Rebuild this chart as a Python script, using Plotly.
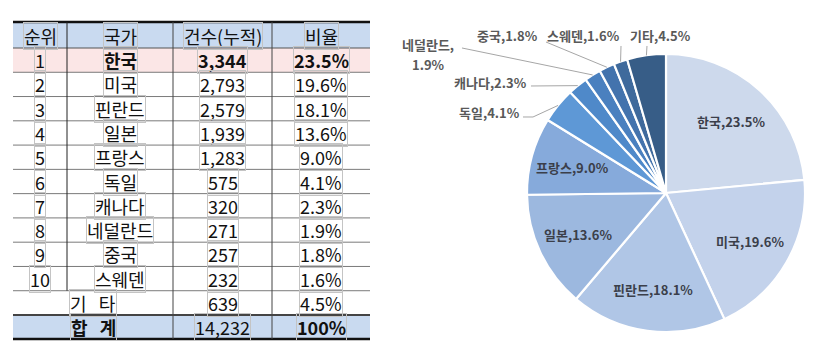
import math
import plotly.graph_objects as go

W, H = 818, 351

# ---------------- data ----------------
ranks = ["1", "2", "3", "4", "5", "6", "7", "8", "9", "10"]
countries = ["한국", "미국", "핀란드", "일본", "프랑스", "독일", "캐나다", "네덜란드", "중국", "스웨덴"]
counts = [3344, 2793, 2579, 1939, 1283, 575, 320, 271, 257, 232]
shares = [23.5, 19.6, 18.1, 13.6, 9.0, 4.1, 2.3, 1.9, 1.8, 1.6]
other_label = "기 타"
other_count = 639
other_share = 4.5
total_label = "합 계"
total_count = 14232
total_share = "100%"
headers = ["순위", "국가", "건수(누적)", "비율"]

pie_labels = countries + ["기타"]
pie_values = shares + [other_share]
pie_colors = ["#cdd9ec", "#c3d2eb", "#b0c6e6", "#9cb8df", "#86aadb", "#5e98d6",
              "#4f89c9", "#4a80bf", "#4373ad", "#3f6a9c", "#375d87"]

# ---------------- helpers ----------------
def px(x):
    return x / W

def py(y):
    return 1 - y / H

FONT = "Noto Sans CJK KR"
shapes = []
annotations = []

# ---------------- table layout ----------------
col_x = [13, 67, 173, 272, 370]
header_top, header_bot = 22, 48
row_h = (315 - 48) / 11
row_y = [header_bot + row_h * i for i in range(12)]  # boundaries of 11 body rows
total_top, total_bot = row_y[-1], 339

def rect(x0, y0, x1, y1, color):
    shapes.append(dict(type="rect", xref="paper", yref="paper",
                       x0=px(x0), x1=px(x1), y0=py(y1), y1=py(y0),
                       fillcolor=color, line=dict(width=0), layer="below"))

def hline(y, x0, x1, color, width):
    shapes.append(dict(type="line", xref="paper", yref="paper",
                       x0=px(x0), x1=px(x1), y0=py(y), y1=py(y),
                       line=dict(color=color, width=width)))

def vline(x, y0, y1, color, width):
    shapes.append(dict(type="line", xref="paper", yref="paper",
                       x0=px(x), x1=px(x), y0=py(y0), y1=py(y1),
                       line=dict(color=color, width=width)))

def cell_text(text, x, y, bold=False, size=18):
    text = text.replace(" ", "\u00a0\u00a0\u00a0")
    annotations.append(dict(
        text=f"<b>{text}</b>" if bold else text,
        x=px(x), y=py(y), xref="paper", yref="paper",
        xanchor="center", yanchor="middle", showarrow=False,
        font=dict(family=FONT, size=size, color="#111111"),
        bordercolor="#c4c4c4", borderwidth=1, borderpad=0,
    ))

# backgrounds
rect(col_x[0], header_top, col_x[-1], header_bot, "#c9daf0")
rect(col_x[0], row_y[0], col_x[-1], row_y[1], "#fbe6e6")
rect(col_x[0], total_top, col_x[-1], total_bot, "#c9daf0")

# horizontal lines
hline(header_top, col_x[0], col_x[-1], "#111111", 2.5)
hline(header_bot, col_x[0], col_x[-1], "#555555", 1.2)
for yy in row_y[1:-1]:
    hline(yy, col_x[0], col_x[-1], "#7a7a7a", 1)
hline(total_top, col_x[0], col_x[-1], "#444444", 2.2)
hline(total_bot, col_x[0], col_x[-1], "#111111", 2.5)

# vertical lines
vline(col_x[1], header_top, row_y[10], "#222222", 1)
vline(col_x[2], header_top, total_bot, "#444444", 1)
vline(col_x[3], header_top, total_bot, "#444444", 1)

centers = [(col_x[i] + col_x[i + 1]) / 2 for i in range(4)]

# header
for i, htxt in enumerate(headers):
    cell_text(htxt, centers[i], (header_top + header_bot) / 2 + 1)

# body rows
for i in range(len(ranks)):
    yc = (row_y[i] + row_y[i + 1]) / 2
    bold = (i == 0)
    cell_text(ranks[i], centers[0], yc)
    cell_text(countries[i], centers[1], yc, bold)
    cell_text(f"{counts[i]:,}", centers[2], yc, bold)
    cell_text(f"{shares[i]:.1f}%", centers[3], yc, bold)

# other row
yc = (row_y[10] + row_y[11]) / 2
merged_c = (col_x[0] + col_x[2]) / 2
cell_text(other_label, merged_c, yc)
cell_text(f"{other_count:,}", centers[2], yc)
cell_text(f"{other_share:.1f}%", centers[3], yc)

# total row
yc = (total_top + total_bot) / 2
cell_text(total_label, merged_c, yc, True)
cell_text(f"{total_count:,}", centers[2], yc)
cell_text(total_share, centers[3], yc, True)

# ---------------- pie ----------------
cx, cy, R = 666, 193, 139
fig = go.Figure()
fig.add_trace(go.Pie(
    labels=pie_labels, values=pie_values, sort=False, direction="clockwise",
    rotation=0, textinfo="none", showlegend=False,
    marker=dict(colors=pie_colors, line=dict(color="white", width=2.2)),
    domain=dict(x=[px(cx - R), px(cx + R)], y=[py(cy + R), py(cy - R)]),
))

tot = sum(pie_values)
mids = []
acc = 0
for v in pie_values:
    mids.append((acc + v / 2) / tot * 360)
    acc += v

def polar(angle_deg, r):
    a = math.radians(angle_deg)
    return cx + r * math.sin(a), cy - r * math.cos(a)

# inside labels (first five slices)
inside_r = 97
for i in range(5):
    x, y = polar(mids[i], inside_r)
    annotations.append(dict(
        text=f"<b>{pie_labels[i]},{pie_values[i]:.1f}%</b>",
        x=px(x), y=py(y), xref="paper", yref="paper",
        xanchor="center", yanchor="middle", showarrow=False,
        font=dict(family=FONT, size=13, color="#3b3f4a"),
    ))

def out_text(txt, x, y):
    annotations.append(dict(
        text=f"<b>{txt}</b>", x=px(x), y=py(y),
        xref="paper", yref="paper", xanchor="center", yanchor="middle",
        showarrow=False, font=dict(family=FONT, size=13, color="#595959"),
    ))

# outside labels with leader lines: (label center, leader start)
outside = {
    5: dict(split=False, tx=489, ty=112, pts=[(523, 117), (533, 117)]),
    6: dict(split=False, tx=490, ty=82, pts=[(531, 86)]),
    7: dict(split=True, tx=428, ty=45, pts=[(462, 48)]),
    8: dict(split=False, tx=507, ty=36, pts=[(546, 42)]),
    9: dict(split=False, tx=583, ty=36, pts=[(621, 46)]),
    10: dict(split=False, tx=660, ty=36, pts=[(647, 46)]),
}
for i, spec in outside.items():
    if spec["split"]:
        out_text(f"{pie_labels[i]},", spec["tx"], spec["ty"])
        out_text(f"{pie_values[i]:.1f}%", spec["tx"], spec["ty"] + 20)
    else:
        out_text(f"{pie_labels[i]},{pie_values[i]:.1f}%", spec["tx"], spec["ty"])
    ex, ey = polar(mids[i], R)
    pts = spec["pts"] + [(ex, ey)]
    path = "M " + " L ".join(f"{px(x):.5f},{py(y):.5f}" for x, y in pts)
    shapes.append(dict(type="path", xref="paper", yref="paper", path=path,
                       line=dict(color="#a6a6a6", width=1)))

fig.update_layout(
    width=W, height=H, margin=dict(l=0, r=0, t=0, b=0),
    paper_bgcolor="white", plot_bgcolor="white",
    shapes=shapes, annotations=annotations,
    font=dict(family=FONT),
)
fig.write_html("out.html")
